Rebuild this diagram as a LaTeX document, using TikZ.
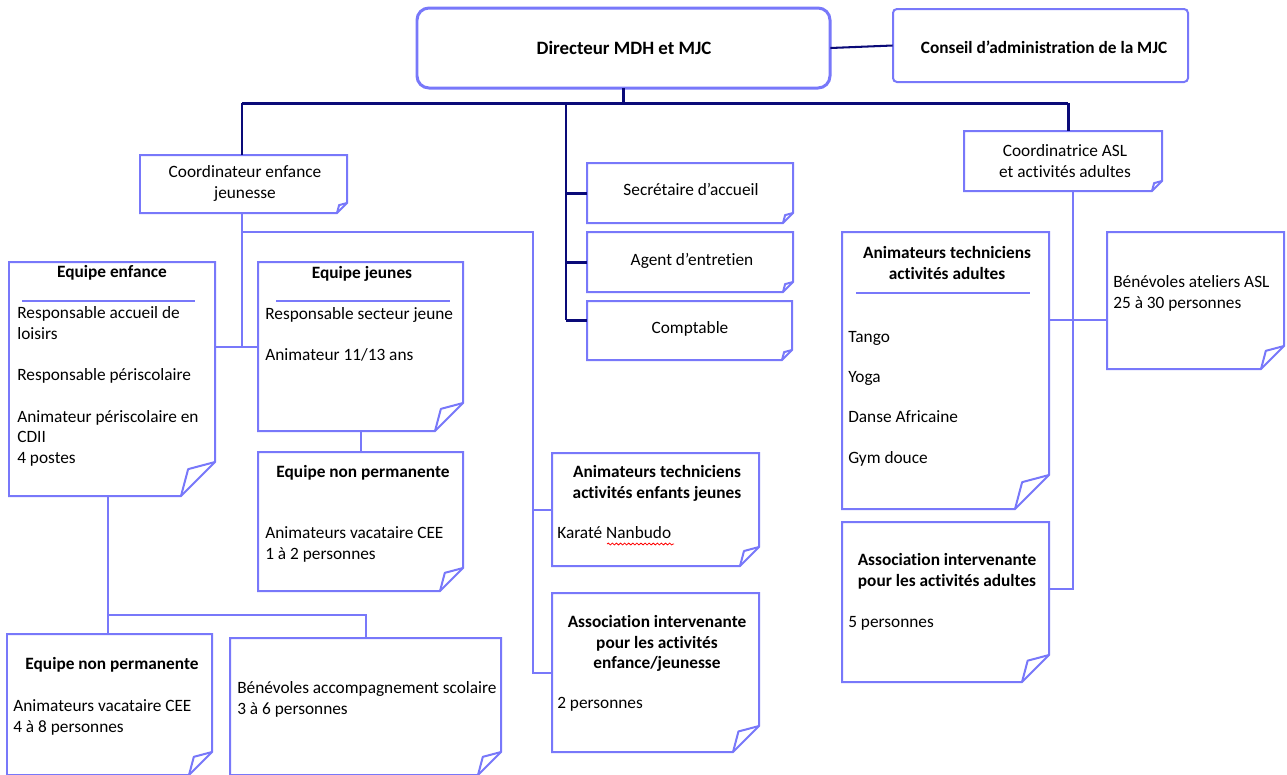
\documentclass[tikz,border=0pt]{standalone}
\usepackage{fontspec}
\setmainfont{Carlito}[Ligatures=NoCommon]
\usetikzlibrary{fit,decorations.pathmorphing}
\definecolor{bxc}{RGB}{120,120,250}
\definecolor{nvc}{RGB}{10,10,120}
\tikzset{
 bx/.style={draw=bxc, line width=1.27pt, line join=miter},
 nv/.style={draw=nvc, line width=1.9pt},
 lb/.style={draw=bxc, line width=1.27pt},
 sepline/.style={draw=bxc, line width=0.7pt},
 txt/.style={inner sep=0pt, font=\fontsize{11}{13.2}\selectfont, text=black},
 ml/.style={txt, align=left, anchor=north west},
 mc/.style={txt, align=center, anchor=north, font=\fontsize{11}{13.2}\selectfont\bfseries},
 mcr/.style={txt, align=center, anchor=north},
 tl/.style={txt, anchor=base west},
 tc/.style={txt, anchor=base},
 tb/.style={txt, anchor=base, font=\fontsize{11}{13.2}\selectfont\bfseries},
}
\newcommand{\foldbox}[6]{%
 \coordinate (#1-nw) at (#2,#3);
 \coordinate (#1-se) at (#4,#5);
 \node[fit=(#1-nw)(#1-se), inner sep=0pt] (#1) {};
 \draw[bx, fill=white] (#2,#3) -- (#4,#3) -- (#4,{#5-#6}) -- ({#4-#6},#5) -- (#2,#5) -- cycle;
 \draw[bx, line join=round] (#4,{#5-#6}) -- ({#4-0.79*#6},{#5-0.79*#6}) -- ({#4-#6},#5);
}
\begin{document}
\begin{tikzpicture}[x=0.636pt,y=-0.636pt]
\useasboundingbox (0,0) rectangle (1287,774);
\fill[white] (0,0) rectangle (1287,774);

\coordinate (dir-nw) at (417,8); \coordinate (dir-se) at (830,88);
\node[fit=(dir-nw)(dir-se), inner sep=0pt] (dir) {};
\coordinate (cons-nw) at (893,9); \coordinate (cons-se) at (1188,82);
\node[fit=(cons-nw)(cons-se), inner sep=0pt] (cons) {};

\coordinate (busL) at (242,103);
\coordinate (busM) at (566,103);
\coordinate (busR) at (1068,103);
\coordinate (midEnd) at (566,320);

\coordinate (jA) at (242,347);
\coordinate (jB) at (242,232);
\coordinate (jC) at (533,232);
\coordinate (jD) at (108,615);
\coordinate (jE) at (1073,589);
\coordinate (jF) at (1073,320);

\draw[draw=bxc, line width=1.9pt, rounded corners=7.6pt, fill=white] (dir-nw) rectangle (dir-se);
\draw[bx, rounded corners=2.5pt, fill=white] (cons-nw) rectangle (cons-se);

\foldbox{coordE}{140}{155}{347}{213}{10}
\foldbox{sec}{587}{163}{793}{223}{10}
\foldbox{agent}{587}{232}{793}{292}{10}
\foldbox{compt}{587}{301}{792}{360}{10}
\foldbox{coordA}{964}{131}{1162}{191}{10}
\foldbox{eqE}{9}{262}{215}{496}{34}
\foldbox{eqJ}{258}{262}{463}{431}{28}
\foldbox{eqNPa}{258}{452}{463}{591}{23}
\foldbox{animE}{552}{453}{759}{566}{19}
\foldbox{assocE}{552}{593}{759}{752}{26}
\foldbox{animA}{842}{232}{1049}{509}{34}
\foldbox{benA}{1107}{232}{1284}{369}{23}
\foldbox{assocA}{842}{522}{1049}{682}{27}
\foldbox{eqNPb}{7}{634}{212}{775}{23}
\foldbox{benS}{230}{638}{501}{775}{23}

\draw[nv] (dir.south) -- (dir.south |- busL);
\draw[nv] (busL) -- (busR);
\draw[nv] (busL) -- (busL |- coordE.north);
\draw[nv] (busR) -- (busR |- coordA.north);
\draw[nv] (busM) -- (midEnd);
\draw[nv] (busM |- sec.west) -- (sec.west);
\draw[nv] (busM |- agent.west) -- (agent.west);
\draw[nv] (midEnd) -- (midEnd -| compt.west);
\draw[draw=nvc, line width=1.3pt] (dir.east) -- (cons.west);

\draw[lb] (busL |- coordE.south) -- (jA);
\draw[lb] (jA -| eqE.east) -- (jA -| eqJ.west);
\draw[lb] (jB) -- (jC) -- (jC |- assocE.west) -- (assocE.west);
\draw[lb] (jC |- animE.west) -- (animE.west);
\draw[lb] (eqJ.south) -- (eqNPa.north);
\draw[lb] (jD |- eqE.south) -- (jD |- eqNPb.north);
\draw[lb] (jD) -- (jD -| benS.north) -- (benS.north);
\draw[lb] (jE |- coordA.south) -- (jE) -- (jE -| assocA.east);
\draw[lb] (jF -| animA.east) -- (jF -| benA.west);

\draw[sepline] (22,301) -- (195,301);
\draw[sepline] (276,301) -- (450,301);
\draw[sepline] (856,293) -- (1030,293);

\node[tb, font=\fontsize{12}{14}\selectfont\bfseries] (tDir) at (624,54) {Directeur MDH et MJC};
\node[tb] (tCons) at (1044,53) {Conseil d’administration de la MJC};

\node[mcr] (tCoordE) at (245,162.5) {\strut Coordinateur enfance\\jeunesse};
\node[tc] (tSec) at (691,195) {Secrétaire d’accueil};
\node[tc] (tAgent) at (692,265) {Agent d’entretien};
\node[tc] (tCompt) at (690,333) {Comptable};
\node[mcr] (tCoordA) at (1065,141.5) {\strut Coordinatrice ASL\\et activités adultes};

\node[tb] (tEqE) at (112,277) {Equipe enfance};
\node[ml] (bEqE) at (17,303.5) {\strut Responsable accueil de\\loisirs\\[13.2pt]Responsable périscolaire\\[13.2pt]Animateur périscolaire en\\CDII\\4 postes};

\node[tb] (tEqJ) at (362,278) {Equipe jeunes};
\node[ml] (bEqJ) at (265,304.5) {\strut Responsable secteur jeune\\[13.2pt]Animateur 11/13 ans};

\node[tb] (tNPa) at (363,477) {Equipe non permanente};
\node[ml] (bNPa) at (265,523.5) {\strut Animateurs vacataire CEE\\1 à 2 personnes};

\node[mc] (tAnimE) at (657,462.5) {\strut Animateurs techniciens\\activités enfants jeunes};
\node[tl] (bAnimE) at (557,538) {Karaté Nanbudo};
\draw[red, line width=0.5pt, decorate, decoration={snake, amplitude=0.6pt, segment length=2.6pt}] (607,544) -- (674,544);

\node[mc] (tAssocE) at (657,612.5) {\strut Association intervenante\\pour les activités\\enfance/jeunesse};
\node[tl] (bAssocE) at (557,708) {2 personnes};

\node[mc] (tAnimA) at (947,243.5) {\strut Animateurs techniciens\\activités adultes};
\node[ml] (bAnimA) at (848,327.5) {\strut Tango\\[12.4pt]Yoga\\[12.4pt]Danse Africaine\\[12.4pt]Gym douce};

\node[ml] (bBenA) at (1113,272.5) {\strut Bénévoles ateliers ASL\\25 à 30 personnes};

\node[mc] (tAssocA) at (947,550.5) {\strut Association intervenante\\pour les activités adultes};
\node[tl] (bAssocA) at (848,627) {5 personnes};

\node[tb] (tNPb) at (112,669) {Equipe non permanente};
\node[ml] (bNPb) at (13,696.5) {\strut Animateurs vacataire CEE\\4 à 8 personnes};

\node[ml] (bBenS) at (237,678.5) {\strut Bénévoles accompagnement scolaire\\3 à 6 personnes};
\end{tikzpicture}
\end{document}
